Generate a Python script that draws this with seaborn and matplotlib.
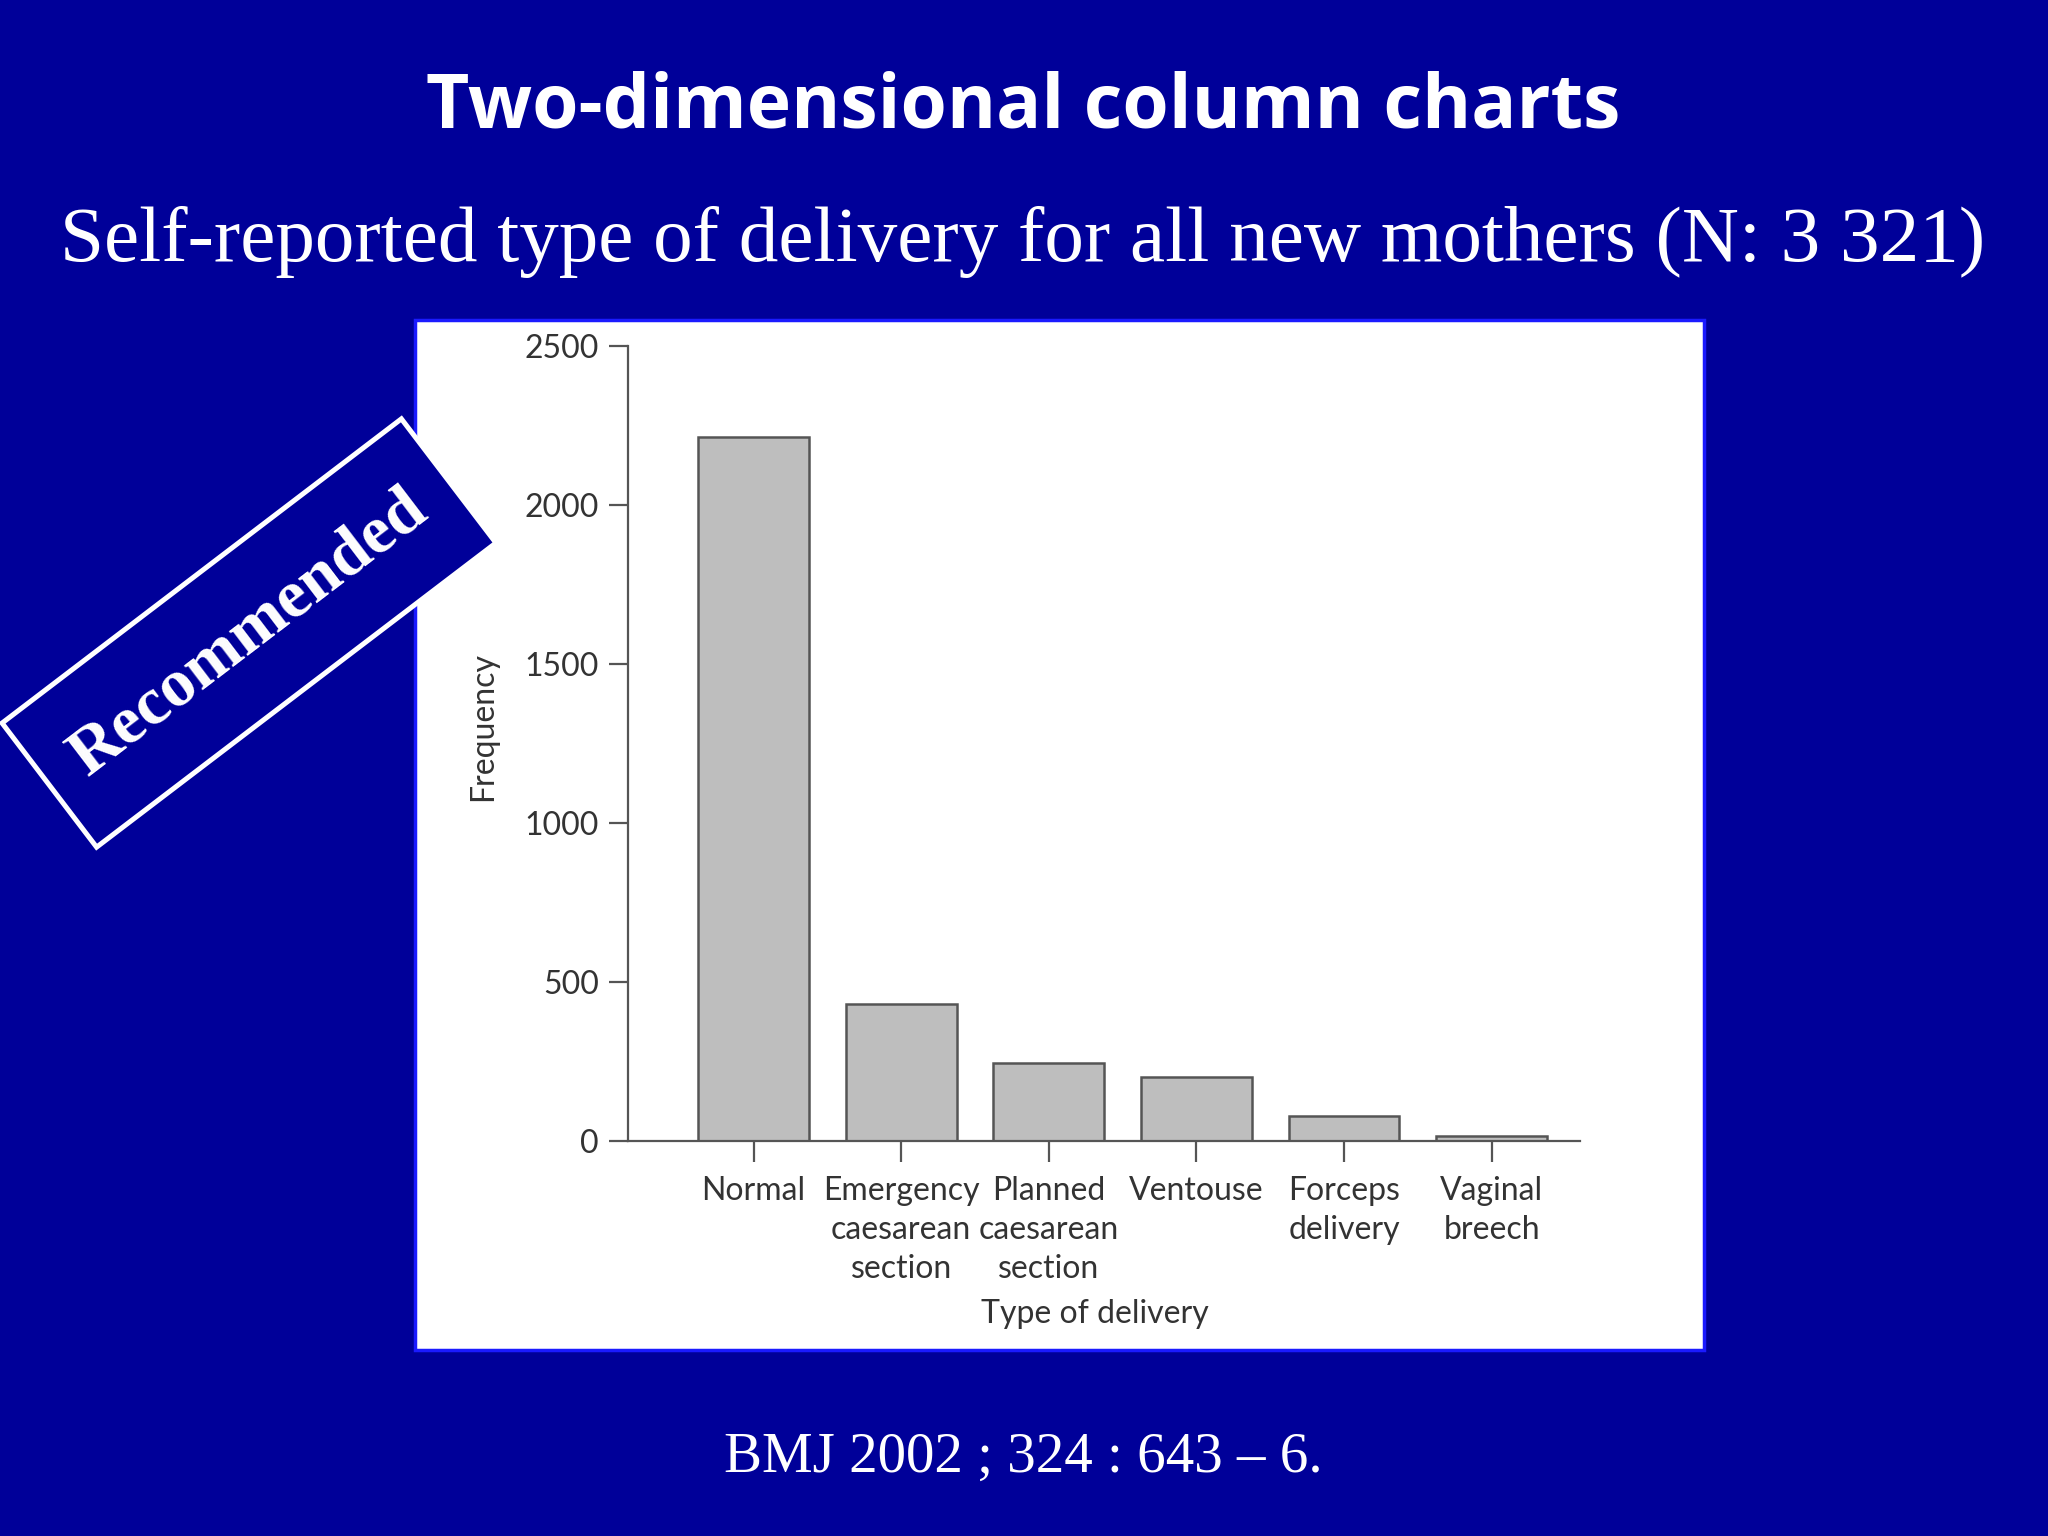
#recreate the slide with the delivery type column chart

import numpy as np
import seaborn as sns
import matplotlib.pyplot as plt
from matplotlib.patches import Rectangle, Polygon

# data
delivery_types = ["Normal", "Emergency\ncaesarean\nsection", "Planned\ncaesarean\nsection",
                  "Ventouse", "Forceps\ndelivery", "Vaginal\nbreech"]
frequency = [2215, 430, 245, 200, 80, 15]
y_ticks = [0, 500, 1000, 1500, 2000, 2500]

W, H = 2048, 1536
bg = "#000099"

sns.set_style("ticks")
plt.rcParams['font.family'] = ['Lato', 'DejaVu Sans']

fig = plt.figure(figsize=(W / 100, H / 100), dpi=100, facecolor=bg)

#white panel behind the chart
panel = Rectangle((415 / W, 1 - 1350 / H), (1704 - 415) / W, (1350 - 320) / H,
                  transform=fig.transFigure, facecolor="white", edgecolor="#1a1aff",
                  linewidth=2.5, zorder=-1)
fig.patches.append(panel)

ax = fig.add_axes([628 / W, 1 - 1141 / H, (1580 - 628) / W, (1141 - 346) / H])
ax.set_facecolor("none")
sns.barplot(x=delivery_types, y=frequency, color="#bebebe", saturation=1,
            edgecolor="#555555", linewidth=1.8, width=0.75, ax=ax)
ax.set_xlim(-0.851, 5.599)
ax.set_ylim(0, 2500)
ax.set_yticks(y_ticks)
sns.despine(ax=ax)
for s in ["left", "bottom"]:
    ax.spines[s].set_color("#555555")
    ax.spines[s].set_linewidth(1.6)
ax.tick_params(axis="y", length=14, width=1.6, color="#555555", labelsize=23,
               labelcolor="#333333", pad=7)
ax.tick_params(axis="x", length=15, width=1.6, color="#555555", labelsize=23,
               labelcolor="#333333", pad=10)
for lbl in ax.get_xticklabels():
    lbl.set_linespacing(1.38)

ax.set_xlabel("Type of delivery", fontsize=23, color="#333333")
ax.xaxis.set_label_coords(0.49, -0.218)
ax.xaxis.label.set_va("center")
ax.set_ylabel("Frequency", fontsize=23, color="#333333")
ax.yaxis.set_label_coords(-0.152, 0.521)
ax.yaxis.label.set_va("center")

#slide texts
fig.text(1023 / W, 1 - 108 / H, "Two-dimensional column charts", ha="center", va="center",
         fontsize=54, fontweight="bold", color="white", family=["Open Sans", "DejaVu Sans"])
fig.text(1023 / W, 1 - 242 / H, "Self-reported type of delivery for all new mothers (N: 3 321)",
         ha="center", va="center", fontsize=57, color="white",
         family=["Liberation Serif", "DejaVu Serif"])
fig.text(1023 / W, 1 - 1458 / H, "BMJ 2002 ; 324 : 643 \u2013 6.", ha="center", va="center",
         fontsize=41, color="white", family=["Liberation Serif", "DejaVu Serif"])

#rotated "Recommended" stamp
cx, cy = 249, 633
bw, bh = 502, 156
ang = np.deg2rad(37.3)
u = np.array([np.cos(ang), -np.sin(ang)])
v = np.array([np.sin(ang), np.cos(ang)])
c = np.array([cx, cy])
corners = [c - bw / 2 * u - bh / 2 * v, c + bw / 2 * u - bh / 2 * v,
           c + bw / 2 * u + bh / 2 * v, c - bw / 2 * u + bh / 2 * v]
corners = [(p[0] / W, 1 - p[1] / H) for p in corners]
stamp = Polygon(corners, closed=True, transform=fig.transFigure, facecolor=bg,
                edgecolor="white", linewidth=3.6, zorder=5)
fig.patches.append(stamp)
fig.text(cx / W, 1 - cy / H, "Recommended", rotation=37.3, rotation_mode="anchor",
         ha="center", va="center", fontsize=49, fontweight="bold", color="white",
         family=["Liberation Serif", "DejaVu Serif"], zorder=6)

fig.savefig("out.png", dpi=100, facecolor=fig.get_facecolor())
